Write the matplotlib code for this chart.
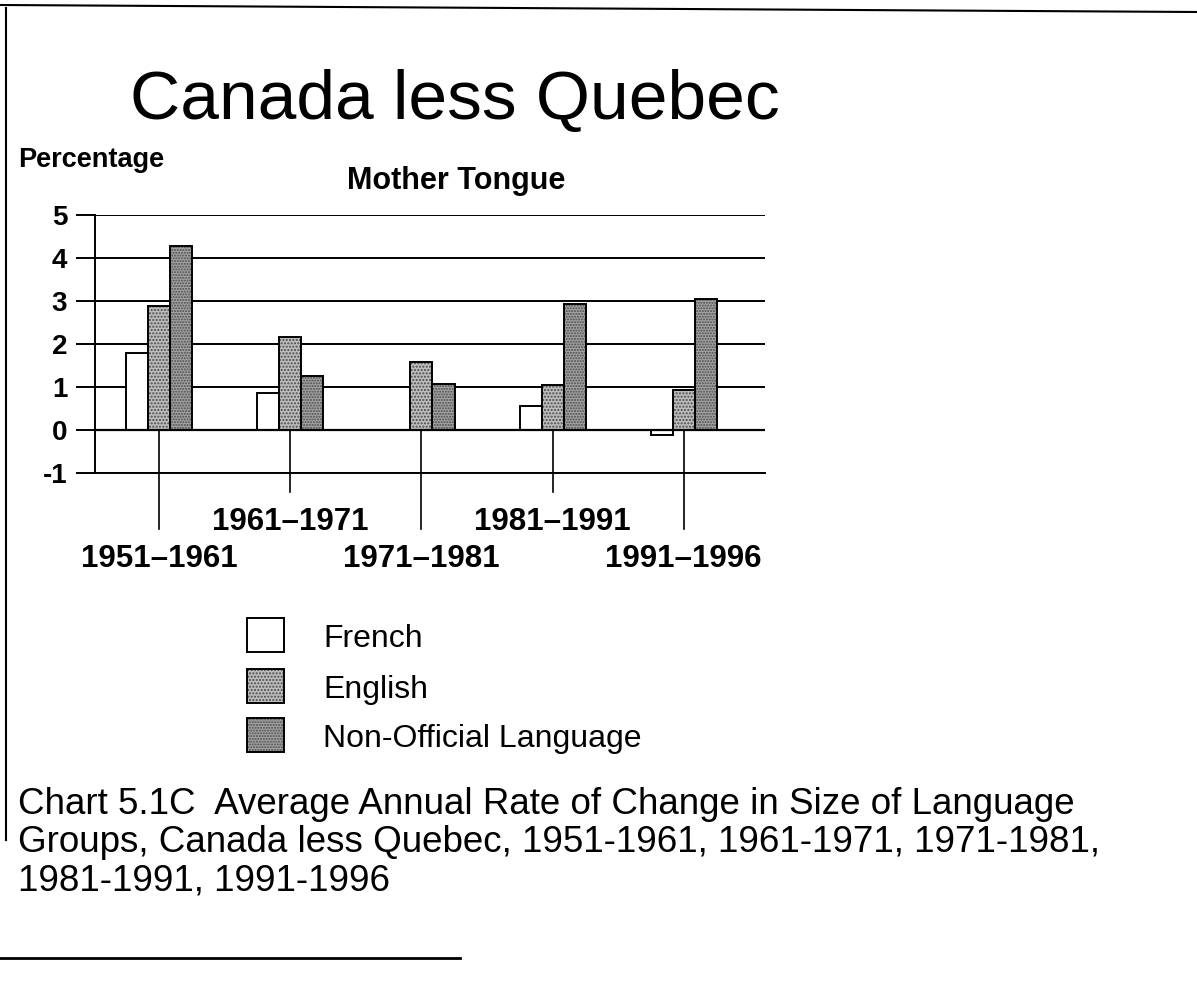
#!/usr/bin/env python3
import matplotlib
matplotlib.use("Agg")
import matplotlib.pyplot as plt
import numpy as np
from matplotlib.patches import Rectangle
from matplotlib.lines import Line2D

periods = ["1951\u20131961", "1961\u20131971", "1971\u20131981", "1981\u20131991", "1991\u20131996"]
series = ["French", "English", "Non-Official Language"]
french = [1.78, 0.87, 0.0, 0.55, -0.12]
english = [2.88, 2.17, 1.57, 1.05, 0.92]
non_official = [4.28, 1.26, 1.06, 2.92, 3.05]
yticks = [5, 4, 3, 2, 1, 0, -1]
caption_lines = [
    "Chart 5.1C  Average Annual Rate of Change in Size of Language",
    "Groups, Canada less Quebec, 1951-1961, 1961-1971, 1971-1981,",
    "1981-1991, 1991-1996",
]

plt.rcParams["font.family"] = ["Liberation Sans", "DejaVu Sans"]

W, H = 1197, 985
fig = plt.figure(figsize=(W / 100, H / 100), dpi=100)
fig.patch.set_facecolor("white")

def fx(px):
    return px / W

def fy(py):
    return 1 - py / H

ax = fig.add_axes([fx(95), fy(473), fx(765) - fx(95), fy(215) - fy(473)])

x = np.arange(len(periods))
bw = 0.168
styles = [
    dict(fc="white", hatch=None),
    dict(fc="#bdbdbd", hatch="....."),
    dict(fc="#a4a4a4", hatch="......"),
]
for i, vals in enumerate([french, english, non_official]):
    xs = x + (i - 1) * bw
    st = styles[i]
    ax.bar(xs, vals, bw, color=st["fc"], hatch=st["hatch"], edgecolor="#4a4a4a",
           linewidth=0, zorder=3)
    ax.bar(xs, vals, bw, fill=False, edgecolor="black", linewidth=1.4, zorder=4)

ax.set_xlim(-0.49, 4.62)
ax.set_ylim(-1, 5)
ax.set_yticks(yticks)
ax.set_yticklabels([str(v) for v in yticks], fontsize=20, fontweight="bold")
ax.tick_params(axis="y", length=14, width=1.4, pad=6, direction="out")
ax.set_xticks([])
ax.grid(axis="y", color="black", linewidth=1.4, zorder=1)
for s in ["top", "right", "bottom"]:
    ax.spines[s].set_visible(False)
ax.spines["left"].set_linewidth(1.4)
ax.axhline(-1, color="black", linewidth=1.4, clip_on=False)
ax.axhline(0, color="black", linewidth=1.6, zorder=5)

# leader lines and staggered category labels
for i, lab in enumerate(periods):
    low = -2.3 if i % 2 == 0 else -1.45
    ax.plot([i, i], [0, low], color="black", linewidth=1.2, clip_on=False, zorder=2)
    ly = -3.0 if i % 2 == 0 else -2.15
    ax.text(i, ly, lab, ha="center", va="center", fontsize=22.5, fontweight="bold")

# titles
fig.text(fx(455), fy(101), "Canada less Quebec", ha="center", va="center", fontsize=50)
fig.text(fx(18), fy(160), "Percentage", ha="left", va="center", fontsize=19.5, fontweight="bold")
fig.text(fx(456), fy(181), "Mother Tongue", ha="center", va="center", fontsize=22, fontweight="bold")

# legend
leg_y = [635, 686, 735]
for lab, st, yy in zip(series, styles, leg_y):
    r = Rectangle((fx(247), fy(yy + 17)), fx(284) - fx(247), fy(yy - 17) - fy(yy + 17),
                  transform=fig.transFigure, facecolor=st["fc"], hatch=st["hatch"],
                  edgecolor="#4a4a4a", linewidth=0)
    fig.add_artist(r)
    r2 = Rectangle((fx(247), fy(yy + 17)), fx(284) - fx(247), fy(yy - 17) - fy(yy + 17),
                   transform=fig.transFigure, fill=False, edgecolor="black", linewidth=1.4)
    fig.add_artist(r2)
    fig.text(fx(323), fy(yy + 4), lab, ha="left", va="center", fontsize=23)

# caption
for line, yy in zip(caption_lines, [804, 843, 881]):
    fig.text(fx(18), fy(yy), line, ha="left", va="center", fontsize=26.5)

# page frame lines from the scanned page
fig.add_artist(Line2D([0, 1], [fy(5), fy(12)], transform=fig.transFigure, color="black", linewidth=1.5))
fig.add_artist(Line2D([fx(6), fx(6)], [fy(8), fy(840)], transform=fig.transFigure, color="black", linewidth=1.5))
fig.add_artist(Line2D([0, fx(460)], [fy(958), fy(958)], transform=fig.transFigure, color="black", linewidth=2))

fig.savefig("out.png", dpi=100)
plt.close(fig)
print("[OK] wrote out.png")
